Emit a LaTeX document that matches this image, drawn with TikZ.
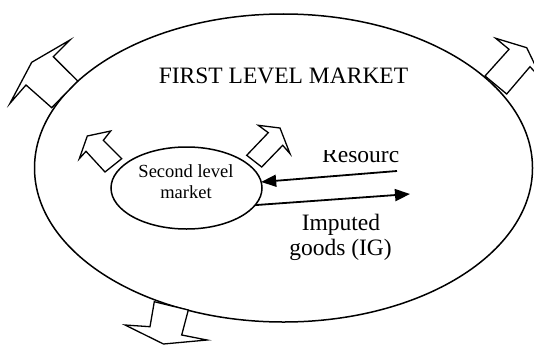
\documentclass[tikz,border=0pt]{standalone}
\usepackage{fontspec}
\setmainfont{Liberation Serif}
\usetikzlibrary{shapes.geometric,arrows.meta}
\tikzset{
  bigtext/.style={font=\fontsize{23.5}{25}\selectfont, inner sep=0pt},
  smalltext/.style={font=\fontsize{18.5}{21.6}\selectfont, align=center, inner sep=0pt},
  oval/.style={draw, ellipse, line width=1.5pt, inner sep=0pt, outer sep=0pt},
  blockarrow/.style={draw, fill=white, line width=1.3pt, line join=miter},
  flow/.style={line width=1.8pt, -{Triangle[length=15pt,width=12pt]}},
}
\begin{document}
\begin{tikzpicture}[x=1pt,y=-1pt]
\useasboundingbox (0,0) rectangle (534,345);
\clip (0,0) rectangle (534,345);
% first level market
\node[oval, minimum width=498pt, minimum height=308pt] (first) at (283.5,168) {};
\node[bigtext, anchor=base] (firsttext) at (283.5,83) {FIRST LEVEL MARKET};
% big block arrows
\draw[blockarrow] (77.7,81) -- (53.3,56.7) -- (70,40) -- (31.7,62.3) -- (10,103.3) -- (26,85) -- (51.7,107.7) -- cycle;
\draw[blockarrow] (485,76) -- (509,49.3) -- (495.7,38.3) -- (526.7,47.7) -- (542.3,80.1) -- (530,66.7) -- (506.7,94) -- cycle;
\draw[blockarrow] (154.3,301.7) -- (150,326.7) -- (125,325) -- (163.5,344) -- (207,340) -- (181.7,335) -- (188.3,310) -- cycle;
% second level market
\node[oval, minimum width=151pt, minimum height=82pt] (sec) at (186.5,188) {};
\node[smalltext] (sectext) at (186,181.5) {Second level\\market};
% small block arrows
\draw[blockarrow] (121.7,158.7) -- (103.3,140.3) -- (110.7,131) -- (87.3,136) -- (79.3,158.7) -- (86,151.3) -- (105,172) -- cycle;
\draw[blockarrow] (246.7,155.3) -- (268.3,132.7) -- (258.3,125.3) -- (280,128) -- (290,153.7) -- (282.7,145.3) -- (261.7,167) -- cycle;
% flows
\coordinate (rs) at (397,171);
\coordinate (ig) at (410,194);
\draw[flow] (rs) -- (sec);
\draw[flow] (sec.-14) -- (ig);
\begin{scope}
\clip (300,150.5) rectangle (420,175);
\node[bigtext, anchor=base west] (res) at (322,162) {Resourc};
\end{scope}
\node[bigtext, anchor=base] (imp) at (341,230) {Imputed};
\node[bigtext, anchor=base] (goods) at (340.5,255) {goods (IG)};
\end{tikzpicture}
\end{document}
